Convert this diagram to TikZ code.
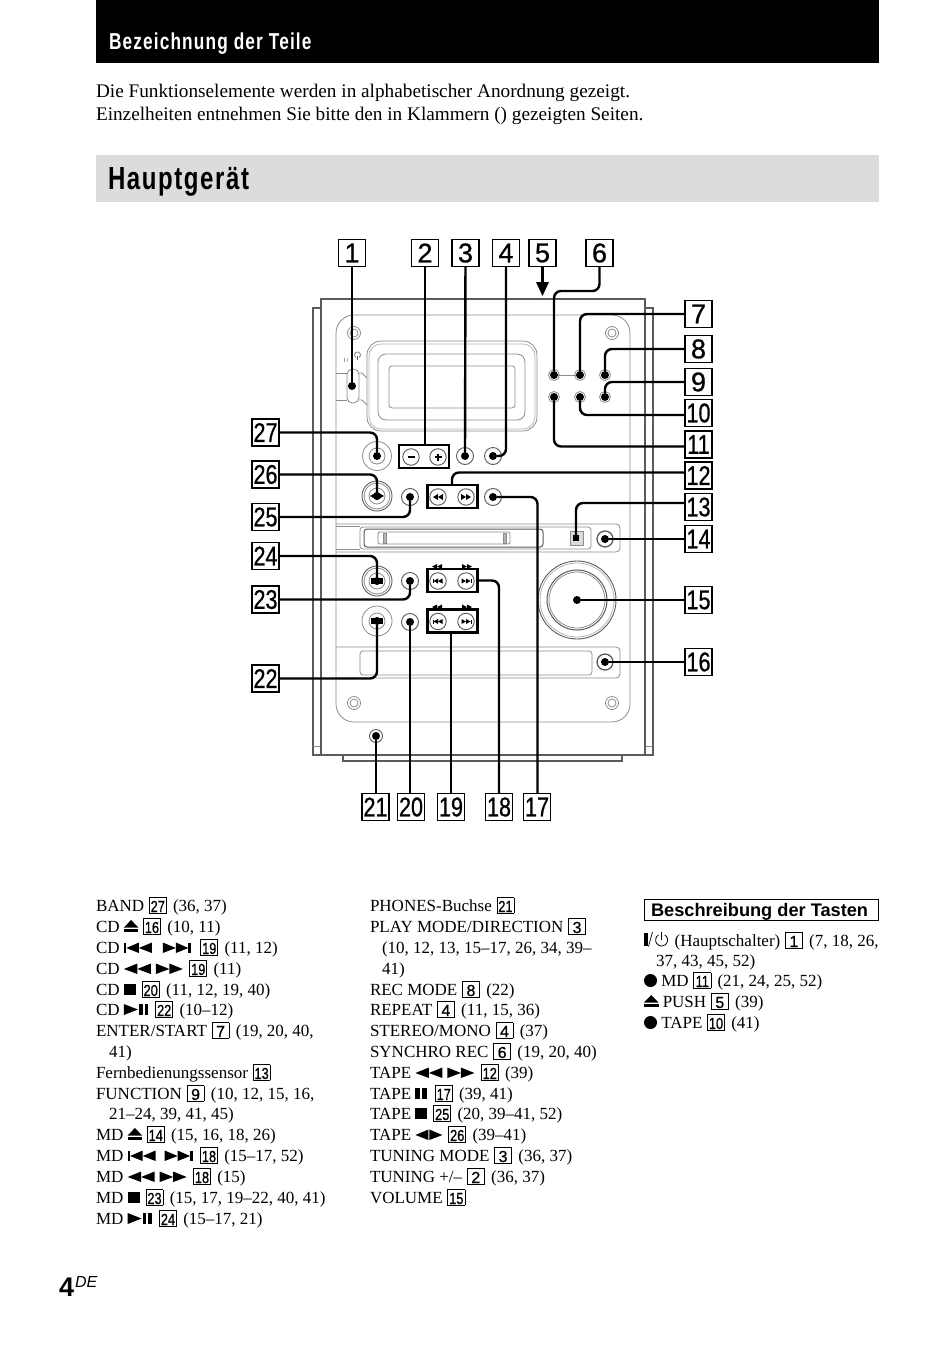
\documentclass[tikz,border=0pt]{standalone}
\usepackage{fontspec}
\setmainfont{Liberation Serif}
\setsansfont{Liberation Sans}
\newfontfamily\headfont[LetterSpace=5,FakeStretch=0.75]{Liberation Sans}
\newfontfamily\numfont[FakeBold=0.8]{Liberation Sans}
\definecolor{cDCDCDC}{RGB}{220,220,220}
\definecolor{c8C8C8C}{RGB}{140,140,140}
\definecolor{c5A5A5A}{RGB}{90,90,90}
\definecolor{cB4B4B4}{RGB}{180,180,180}
\newcommand{\narrow}[1]{\scalebox{0.8}[1]{#1}}
\newcommand{\keybox}[1]{\hspace{0.5pt}\raisebox{-1pt}{\setlength{\fboxsep}{0pt}\setlength{\fboxrule}{0.6pt}\fbox{\rule[-1pt]{0pt}{15pt}\makebox[16.5pt]{\numfont\fontsize{16pt}{16pt}\selectfont #1}}}\hspace{2.2pt}}
\newcommand{\keynn}[1]{\keybox{\narrow{#1}}}
\newcommand{\symeject}{\tikz[x=1pt,y=1pt,baseline=0pt]{\fill (0,4.5) -- (14.5,4.5) -- (7.25,12) -- cycle; \fill (0,0) rectangle (14.5,2.6);}}
\newcommand{\symrew}{\tikz[x=1pt,y=1pt,baseline=0pt]{\fill (0,5) -- (13.5,10.5) -- (13.5,0) -- cycle; \fill (13.5,5) -- (27,10.5) -- (27,0) -- cycle;}}
\newcommand{\symfwd}{\tikz[x=1pt,y=1pt,baseline=0pt]{\fill (27,5) -- (13.5,10.5) -- (13.5,0) -- cycle; \fill (13.5,5) -- (0,10.5) -- (0,0) -- cycle;}}
\newcommand{\symprev}{\tikz[x=1pt,y=1pt,baseline=0pt]{\fill (0,0) rectangle (2.5,10.5); \fill (2.5,5) -- (15,10.5) -- (15,0) -- cycle; \fill (15,5) -- (28,10.5) -- (28,0) -- cycle;}}
\newcommand{\symnext}{\tikz[x=1pt,y=1pt,baseline=0pt]{\fill (25.5,0) rectangle (28,10.5); \fill (25.5,5) -- (13,10.5) -- (13,0) -- cycle; \fill (13,5) -- (0,10.5) -- (0,0) -- cycle;}}
\newcommand{\symstop}{\tikz[x=1pt,y=1pt,baseline=0pt]{\fill (0,0) rectangle (12,11.5);}}
\newcommand{\symplay}{\tikz[x=1pt,y=1pt,baseline=0pt]{\fill (0,0) -- (14,5.5) -- (0,11) -- cycle; \fill (15.5,0) rectangle (18.7,11); \fill (20.8,0) rectangle (24,11);}}
\newcommand{\sympause}{\tikz[x=1pt,y=1pt,baseline=0pt]{\fill (0,0) rectangle (5,11); \fill (7,0) rectangle (12,11);}}
\newcommand{\symtape}{\tikz[x=1pt,y=1pt,baseline=0pt]{\fill (0,5) -- (13,10.5) -- (13,0) -- cycle; \fill (27,5) -- (14,10.5) -- (14,0) -- cycle;}}
\newcommand{\symrec}{\tikz[x=1pt,y=1pt,baseline=0pt]{\fill (6.5,5.5) circle (6.5);}}
\newcommand{\symring}{\tikz[x=1pt,y=1pt,baseline=0pt]{\draw[line width=0.8pt] (3,11.200) arc (60:-240:6); \draw[line width=0.8pt] (0,6) -- (0,14);}}
\newcommand{\sympower}{\tikz[x=1pt,y=1pt,baseline=0pt]{\fill (0,0) rectangle (3.5,13); \draw[line width=0.7pt] (4.5,-0.5) -- (8.5,14);}\hspace{1.5pt}\symring\hspace{1.5pt}}
\tikzset{
  numbox/.style={draw=black,line width=1.3pt,fill=white,minimum width=27pt,minimum height=27pt,font=\numfont\fontsize{27pt}{27pt}\selectfont},
  dot/.style={circle,fill=black,minimum size=8pt},
  lead/.style={draw=black,line width=2.4pt,rounded corners=7pt},
  part/.style={draw=c8C8C8C,line width=0.8pt},
  hull/.style={draw=c5A5A5A,line width=1.4pt},
  ring/.style={draw=c5A5A5A,line width=0.9pt,fill=white},
  keygroup/.style={draw=black,line width=2.2pt,fill=white},
  item/.style={anchor=base west,font=\fontsize{17pt}{20pt}\selectfont},
  intro/.style={anchor=base west,font=\fontsize{19.25pt}{20pt}\selectfont},
}
\begin{document}
\begin{tikzpicture}[y=-1pt,x=1pt, inner sep=0pt, outer sep=0pt]
  \useasboundingbox (0,0) rectangle (950,1346);
  % headings
  \path[fill=black] (96,0) rectangle (879,63);
  \node[anchor=base west,text=white,font=\headfont\bfseries\fontsize{23pt}{23pt}\selectfont] (title) at (109,49) {Bezeichnung der Teile};
  \node[intro] (introa) at (96,97) {Die Funktionselemente werden in alphabetischer Anordnung gezeigt.};
  \node[intro] (introb) at (96,120) {Einzelheiten entnehmen Sie bitte den in Klammern () gezeigten Seiten.};
  \path[fill=cDCDCDC] (96,155) rectangle (879,202);
  \node[anchor=base west,font=\headfont\bfseries\fontsize{32pt}{32pt}\selectfont] (head) at (108,189) {Hauptgerät};
  % hull
  \path[hull] (321,755) -- (313,755) -- (313,308) -- (321,308);
  \path[part] (313,746) -- (321,746);
  \path[hull] (645,755) -- (653,755) -- (653,308) -- (645,308);
  \path[part] (645,746) -- (653,746);
  \path[hull] (321,755) -- (321,299) -- (645,299) -- (645,755) -- cycle;
  \path[hull] (343,755) -- (343,761) -- (622,761) -- (622,755);
  \path[part,rounded corners=18pt] (336,315) rectangle (630,722);
  % display
  \path[part,rounded corners=14pt] (367,341) rectangle (537,431);
  \path[draw=cB4B4B4,line width=0.7pt,rounded corners=12pt] (369,344) rectangle (535,429);
  \path[part,rounded corners=8pt] (378,354) rectangle (525,420);
  \path[part,rounded corners=3pt] (389,366) rectangle (515,408);
  % screws
  \path[part] (354,333) circle (6.5);
  \path[part] (354,333) circle (4);
  \path[part] (612,333) circle (6.5);
  \path[part] (612,333) circle (4);
  \path[part] (354,703) circle (6.5);
  \path[part] (354,703) circle (4);
  \path[part] (612,703) circle (6.5);
  \path[part] (612,703) circle (4);
  % power switch
  \node[anchor=center,text=c5A5A5A,font=\sffamily\fontsize{6pt}{6pt}\selectfont] (swlabel) at (346,360) {I /};
  \path[draw=c5A5A5A,line width=0.6pt] (359,357.500) arc (60:-240:3);
  \path[draw=c5A5A5A,line width=0.6pt] (357.500,356) -- (357.500,360);
  \path[part] (336,373) -- (347,373);
  \path[part] (336,400) -- (347,400);
  \path[part] (359,373) -- (362,373) -- (367,378);
  \path[part] (359,400) -- (362,400) -- (367,405);
  \path[part,rounded corners=5.5pt,fill=white] (347,369) rectangle (359,403);
  % slots
  \path[part,rounded corners=4pt] (336,524) -- (620,524) -- (620,552) -- (336,552);
  \path[part] (336,526.500) -- (360,526.500);
  \path[part] (336,549.500) -- (360,549.500);
  \path[part,rounded corners=3pt] (360,527) rectangle (591,549);
  \path[draw=c5A5A5A,line width=1pt,rounded corners=3pt] (364,529) rectangle (543,547);
  \path[part,rounded corners=2pt] (378,532) rectangle (510,544);
  \path[part,fill=cB4B4B4] (383,533) rectangle (386,543);
  \path[part,fill=cB4B4B4] (503,533) rectangle (506,543);
  \path[part,fill=cDCDCDC] (570,531) rectangle (583,545);
  \path[part,rounded corners=4pt] (336,647) -- (620,647) -- (620,678) -- (336,678);
  \path[part,rounded corners=3pt] (360,651) rectangle (592,675);
  % knobs
  \path[part] (377,456) circle (14.5);
  \path[part] (377,456) circle (8);
  \path[ring] (377,496) circle (15);
  \path[part] (377,496) circle (13);
  \path[part] (377,496) circle (8);
  \path[fill=black] (370,496) -- (377,492) -- (384,496) -- (377,500) -- cycle;
  \path[ring] (377,581) circle (15);
  \path[part] (377,581) circle (13);
  \path[part] (377,581) circle (8);
  \path[fill=black] (371,578) rectangle (383,584);
  \path[part] (377,621) circle (15);
  \path[part] (377,621) circle (8);
  \path[fill=black] (371,618) rectangle (383,624);
  \path[ring] (577,600) circle (39);
  \path[draw=cB4B4B4,line width=0.8pt] (577,600) circle (37);
  \path[draw=c5A5A5A,line width=1pt] (577,600) circle (30);
  \path[part] (577,600) circle (28);
  \path[ring] (376,736) circle (6.5);
  % push buttons
  \path[ring] (465,456) circle (8.5);
  \path[ring] (493,456) circle (8.5);
  \path[ring] (410,497) circle (8.5);
  \path[ring] (493,497) circle (8.5);
  \path[ring] (410,581) circle (8.5);
  \path[ring] (410,622) circle (8.5);
  \path[ring,line width=1.3pt] (605,539) circle (8);
  \path[ring,line width=1.3pt] (605,662) circle (8);
  \path[part] (554,375) -- (580,375);
  \path[part] (554,375) circle (5.5);
  \path[part] (580,375) circle (5.5);
  \path[part] (605,375) circle (5.5);
  \path[part] (554,397) circle (5.5);
  \path[part] (580,397) circle (5.5);
  \path[part] (605,397) circle (5.5);
  % key groups
  \node[keygroup,minimum width=50pt,minimum height=23pt] (gtune) at (424,456.500) {};
  \node[ring,circle,minimum size=16.500pt] (btminus) at (411,457) {};
  \node[ring,circle,minimum size=16.500pt] (btplus) at (438,457) {};
  \path[fill=black] (407.500,456) rectangle (414.500,458);
  \path[fill=black] (434.500,456) rectangle (441.500,458);
  \path[fill=black] (437,453.500) rectangle (439,460.500);
  \node[keygroup,minimum width=50pt,minimum height=23pt] (gtape) at (452.500,496.500) {};
  \node[ring,circle,minimum size=16.500pt] (btrew) at (438,497) {};
  \node[ring,circle,minimum size=16.500pt] (btfwd) at (466,497) {};
  \path[fill=black] (433,497) -- (438,494) -- (438,500) -- cycle;
  \path[fill=black] (438,497) -- (443,494) -- (443,500) -- cycle;
  \path[fill=black] (471,497) -- (466,494) -- (466,500) -- cycle;
  \path[fill=black] (466,497) -- (461,494) -- (461,500) -- cycle;
  \node[keygroup,minimum width=50pt,minimum height=23pt] (gmd) at (452.500,580.500) {};
  \node[ring,circle,minimum size=16.500pt] (btmdp) at (438,581) {};
  \node[ring,circle,minimum size=16.500pt] (btmdn) at (466,581) {};
  \path[fill=black] (432.500,579) rectangle (433.500,583);
  \path[fill=black] (433.500,581) -- (438,578.500) -- (438,583.500) -- cycle;
  \path[fill=black] (438,581) -- (442.500,578.500) -- (442.500,583.500) -- cycle;
  \path[fill=black] (470.500,579) rectangle (471.500,583);
  \path[fill=black] (470.500,581) -- (466,578.500) -- (466,583.500) -- cycle;
  \path[fill=black] (466,581) -- (461.500,578.500) -- (461.500,583.500) -- cycle;
  \path[fill=black] (432,566.500) -- (437,564) -- (437,569) -- cycle;
  \path[fill=black] (437,566.500) -- (442,564) -- (442,569) -- cycle;
  \path[fill=black] (472,566.500) -- (467,564) -- (467,569) -- cycle;
  \path[fill=black] (467,566.500) -- (462,564) -- (462,569) -- cycle;
  \node[keygroup,minimum width=50pt,minimum height=23pt] (gcd) at (452.500,621) {};
  \node[ring,circle,minimum size=16.500pt] (btcdp) at (438,621.500) {};
  \node[ring,circle,minimum size=16.500pt] (btcdn) at (466,621.500) {};
  \path[fill=black] (432.500,619.500) rectangle (433.500,623.500);
  \path[fill=black] (433.500,621.500) -- (438,619) -- (438,624) -- cycle;
  \path[fill=black] (438,621.500) -- (442.500,619) -- (442.500,624) -- cycle;
  \path[fill=black] (470.500,619.500) rectangle (471.500,623.500);
  \path[fill=black] (470.500,621.500) -- (466,619) -- (466,624) -- cycle;
  \path[fill=black] (466,621.500) -- (461.500,619) -- (461.500,624) -- cycle;
  \path[fill=black] (432,607) -- (437,604.500) -- (437,609.500) -- cycle;
  \path[fill=black] (437,607) -- (442,604.500) -- (442,609.500) -- cycle;
  \path[fill=black] (472,607) -- (467,604.500) -- (467,609.500) -- cycle;
  \path[fill=black] (467,607) -- (462,604.500) -- (462,609.500) -- cycle;
  % dots
  \node[dot] (pa) at (352,386) {};
  \node[dot] (pc) at (465,456) {};
  \node[dot] (pd) at (493,456) {};
  \node[dot] (pf) at (554,375) {};
  \node[dot] (pg) at (580,375) {};
  \node[dot] (ph) at (605,375) {};
  \node[dot] (pi) at (605,397) {};
  \node[dot] (pj) at (580,397) {};
  \node[dot] (pk) at (554,397) {};
  \node[dot,rectangle,minimum size=6pt] (pm) at (576,538) {};
  \node[dot] (pn) at (605,539) {};
  \node[dot] (po) at (577,600) {};
  \node[dot] (pp) at (605,662) {};
  \node[dot] (pq) at (493,497) {};
  \node[dot] (pt) at (410,622) {};
  \node[dot] (pu) at (376,736) {};
  \node[dot] (pv) at (377,621) {};
  \node[dot] (pw) at (410,581) {};
  \node[dot] (px) at (377,581) {};
  \node[dot] (py) at (410,497) {};
  \node[dot] (pz) at (377,496) {};
  \node[dot] (pza) at (377,456) {};
  % numbers
  \node[numbox] (n1) at (352,253) {1};
  \node[numbox] (n2) at (425,253) {2};
  \node[numbox] (n3) at (465.500,253) {3};
  \node[numbox] (n4) at (506,253) {4};
  \node[numbox] (n5) at (542.500,253) {5};
  \node[numbox] (n6) at (599.500,253) {6};
  \node[numbox] (n7) at (698.500,314) {7};
  \node[numbox] (n8) at (698.500,349) {8};
  \node[numbox] (n9) at (698.500,382) {9};
  \node[numbox] (n10) at (698.500,413) {\narrow{10}};
  \node[numbox] (n11) at (698.500,444.500) {\narrow{11}};
  \node[numbox] (n12) at (698.500,475.500) {\narrow{12}};
  \node[numbox] (n13) at (698.500,507) {\narrow{13}};
  \node[numbox] (n14) at (698.500,539) {\narrow{14}};
  \node[numbox] (n15) at (698.500,600) {\narrow{15}};
  \node[numbox] (n16) at (698.500,662) {\narrow{16}};
  \node[numbox] (n17) at (537,807) {\narrow{17}};
  \node[numbox] (n18) at (499,807) {\narrow{18}};
  \node[numbox] (n19) at (451,807) {\narrow{19}};
  \node[numbox] (n20) at (411,807) {\narrow{20}};
  \node[numbox] (n21) at (375.500,807) {\narrow{21}};
  \node[numbox] (n22) at (265.500,678.500) {\narrow{22}};
  \node[numbox] (n23) at (265.500,599.500) {\narrow{23}};
  \node[numbox] (n24) at (265.500,556) {\narrow{24}};
  \node[numbox] (n25) at (265.500,517) {\narrow{25}};
  \node[numbox] (n26) at (265.500,474.500) {\narrow{26}};
  \node[numbox] (n27) at (265.500,432.500) {\narrow{27}};
  % connectors
  \coordinate (fiveTip) at (542.500,296);
  \coordinate (sixBend) at (554,291);
  \path[lead] (n1) -- (pa);
  \path[lead] (n2) -- (gtune.north -| n2);
  \path[lead] (n3) -- (pc);
  \path[lead] (n4) |- (pd);
  \path[draw=black,line width=2.1pt] (n5) -- (542.500,285);
  \path[fill=black] (536,282) -- (549,282) -- (fiveTip) -- cycle;
  \path[lead] (n6) |- (sixBend) -- (pf);
  \path[lead] (n7) -| (pg);
  \path[lead] (n8) -| (ph);
  \path[lead] (n9) -| (pi);
  \path[lead] ([yshift=-2pt]n10.west) -| (pj);
  \path[lead] ([yshift=-2pt]n11.west) -| (pk);
  \path[lead] ([yshift=3pt]n12.west) -| ([xshift=-0.500pt]gtape.north);
  \path[lead] ([yshift=4pt]n13.west) -| (pm);
  \path[lead] (n14) -- (pn);
  \path[lead] (n15) -- (po);
  \path[lead] (n16) -- (pp);
  \path[lead] (n17.north -| 537.500,0) |- (pq);
  \path[lead] (n18) |- (gmd.east);
  \path[lead] (gcd.south -| n19) -- (n19);
  \path[lead] (pt |- n20.north) -- (pt);
  \path[lead] (pu |- n21.north) -- (pu);
  \path[lead] (n22) -| (pv);
  \path[lead] (n23) -| (pw);
  \path[lead] (n24) -| (px);
  \path[lead] (n25) -| (py);
  \path[lead] (n26) -| (pz);
  \path[lead] (n27) -| (pza);
  % index, first column
  \node[item] (la) at (96,911) {BAND \keynn{27} (36, 37)};
  \node[item] (lb) at (96,932) {CD \symeject\ \keynn{16} (10, 11)};
  \node[item] (lc) at (96,953) {CD \symprev\hspace{11pt}\symnext\hspace{9pt}\keynn{19} (11, 12)};
  \node[item] (ld) at (96,974) {CD \symrew\hspace{5pt}\symfwd\hspace{6pt}\keynn{19} (11)};
  \node[item] (le) at (96,995) {CD \symstop\hspace{5.5pt}\keynn{20} (11, 12, 19, 40)};
  \node[item] (lf) at (96,1015) {CD \symplay\hspace{7pt}\keynn{22} (10–12)};
  \node[item] (lg) at (96,1036) {ENTER/START \keybox{7} (19, 20, 40,};
  \node[item] (lh) at (109,1057) {41)};
  \node[item] (li) at (96,1078) {Fernbedienungssensor \keynn{13}};
  \node[item] (lj) at (96,1099) {FUNCTION \keybox{9} (10, 12, 15, 16,};
  \node[item] (lk) at (109,1119) {21–24, 39, 41, 45)};
  \node[item] (ll) at (96,1140) {MD \symeject\ \keynn{14} (15, 16, 18, 26)};
  \node[item] (lm) at (96,1161) {MD \symprev\hspace{9pt}\symnext\hspace{7pt}\keynn{18} (15–17, 52)};
  \node[item] (ln) at (96,1182) {MD \symrew\hspace{5pt}\symfwd\hspace{6pt}\keynn{18} (15)};
  \node[item] (lo) at (96,1203) {MD \symstop\hspace{5.5pt}\keynn{23} (15, 17, 19–22, 40, 41)};
  \node[item] (lp) at (96,1224) {MD \symplay\hspace{7pt}\keynn{24} (15–17, 21)};
  % index, second column
  \node[item] (ma) at (370,911) {PHONES-Buchse \keynn{21}};
  \node[item] (mb) at (370,932) {PLAY MODE/DIRECTION \keybox{3}};
  \node[item] (mc) at (382,953) {(10, 12, 13, 15–17, 26, 34, 39–};
  \node[item] (md) at (382,974) {41)};
  \node[item] (me) at (370,995) {REC MODE \keybox{8} (22)};
  \node[item] (mf) at (370,1015) {REPEAT \keybox{4} (11, 15, 36)};
  \node[item] (mg) at (370,1036) {STEREO/MONO \keybox{4} (37)};
  \node[item] (mh) at (370,1057) {SYNCHRO REC \keybox{6} (19, 20, 40)};
  \node[item] (mi) at (370,1078) {TAPE \symrew\hspace{5pt}\symfwd\hspace{6pt}\keynn{12} (39)};
  \node[item] (mj) at (370,1099) {TAPE \sympause\hspace{7pt}\keynn{17} (39, 41)};
  \node[item] (mk) at (370,1119) {TAPE \symstop\hspace{5.5pt}\keynn{25} (20, 39–41, 52)};
  \node[item] (ml) at (370,1140) {TAPE \symtape\hspace{5.5pt}\keynn{26} (39–41)};
  \node[item] (mm) at (370,1161) {TUNING MODE \keybox{3} (36, 37)};
  \node[item] (mn) at (370,1182) {TUNING +/– \keybox{2} (36, 37)};
  \node[item] (mo) at (370,1203) {VOLUME \keynn{15}};
  % index, third column
  \node[draw=black,line width=0.8pt,minimum width=234pt,minimum height=21pt,anchor=north west] (keyhead) at (644,899) {};
  \node[anchor=base west,font=\sffamily\bfseries\fontsize{18.2pt}{19pt}\selectfont] (keytitle) at (651,916) {Beschreibung der Tasten};
  \node[item] (ra) at (644,946) {\sympower\ (Hauptschalter) \keybox{1} (7, 18, 26,};
  \node[item] (rb) at (656,966) {37, 43, 45, 52)};
  \node[item] (rc) at (644,986) {\symrec\ MD \keynn{11} (21, 24, 25, 52)};
  \node[item] (rd) at (644,1007) {\symeject\ PUSH \keybox{5} (39)};
  \node[item] (re) at (644,1028) {\symrec\ TAPE \keynn{10} (41)};
  % page number
  \node[anchor=base west,font=\sffamily\bfseries\fontsize{27pt}{27pt}\selectfont] (pagenum) at (59,1296) {4};
  \node[anchor=base west,font=\sffamily\itshape\fontsize{16pt}{16pt}\selectfont] (pagelang) at (75,1287) {DE};
\end{tikzpicture}
\end{document}
